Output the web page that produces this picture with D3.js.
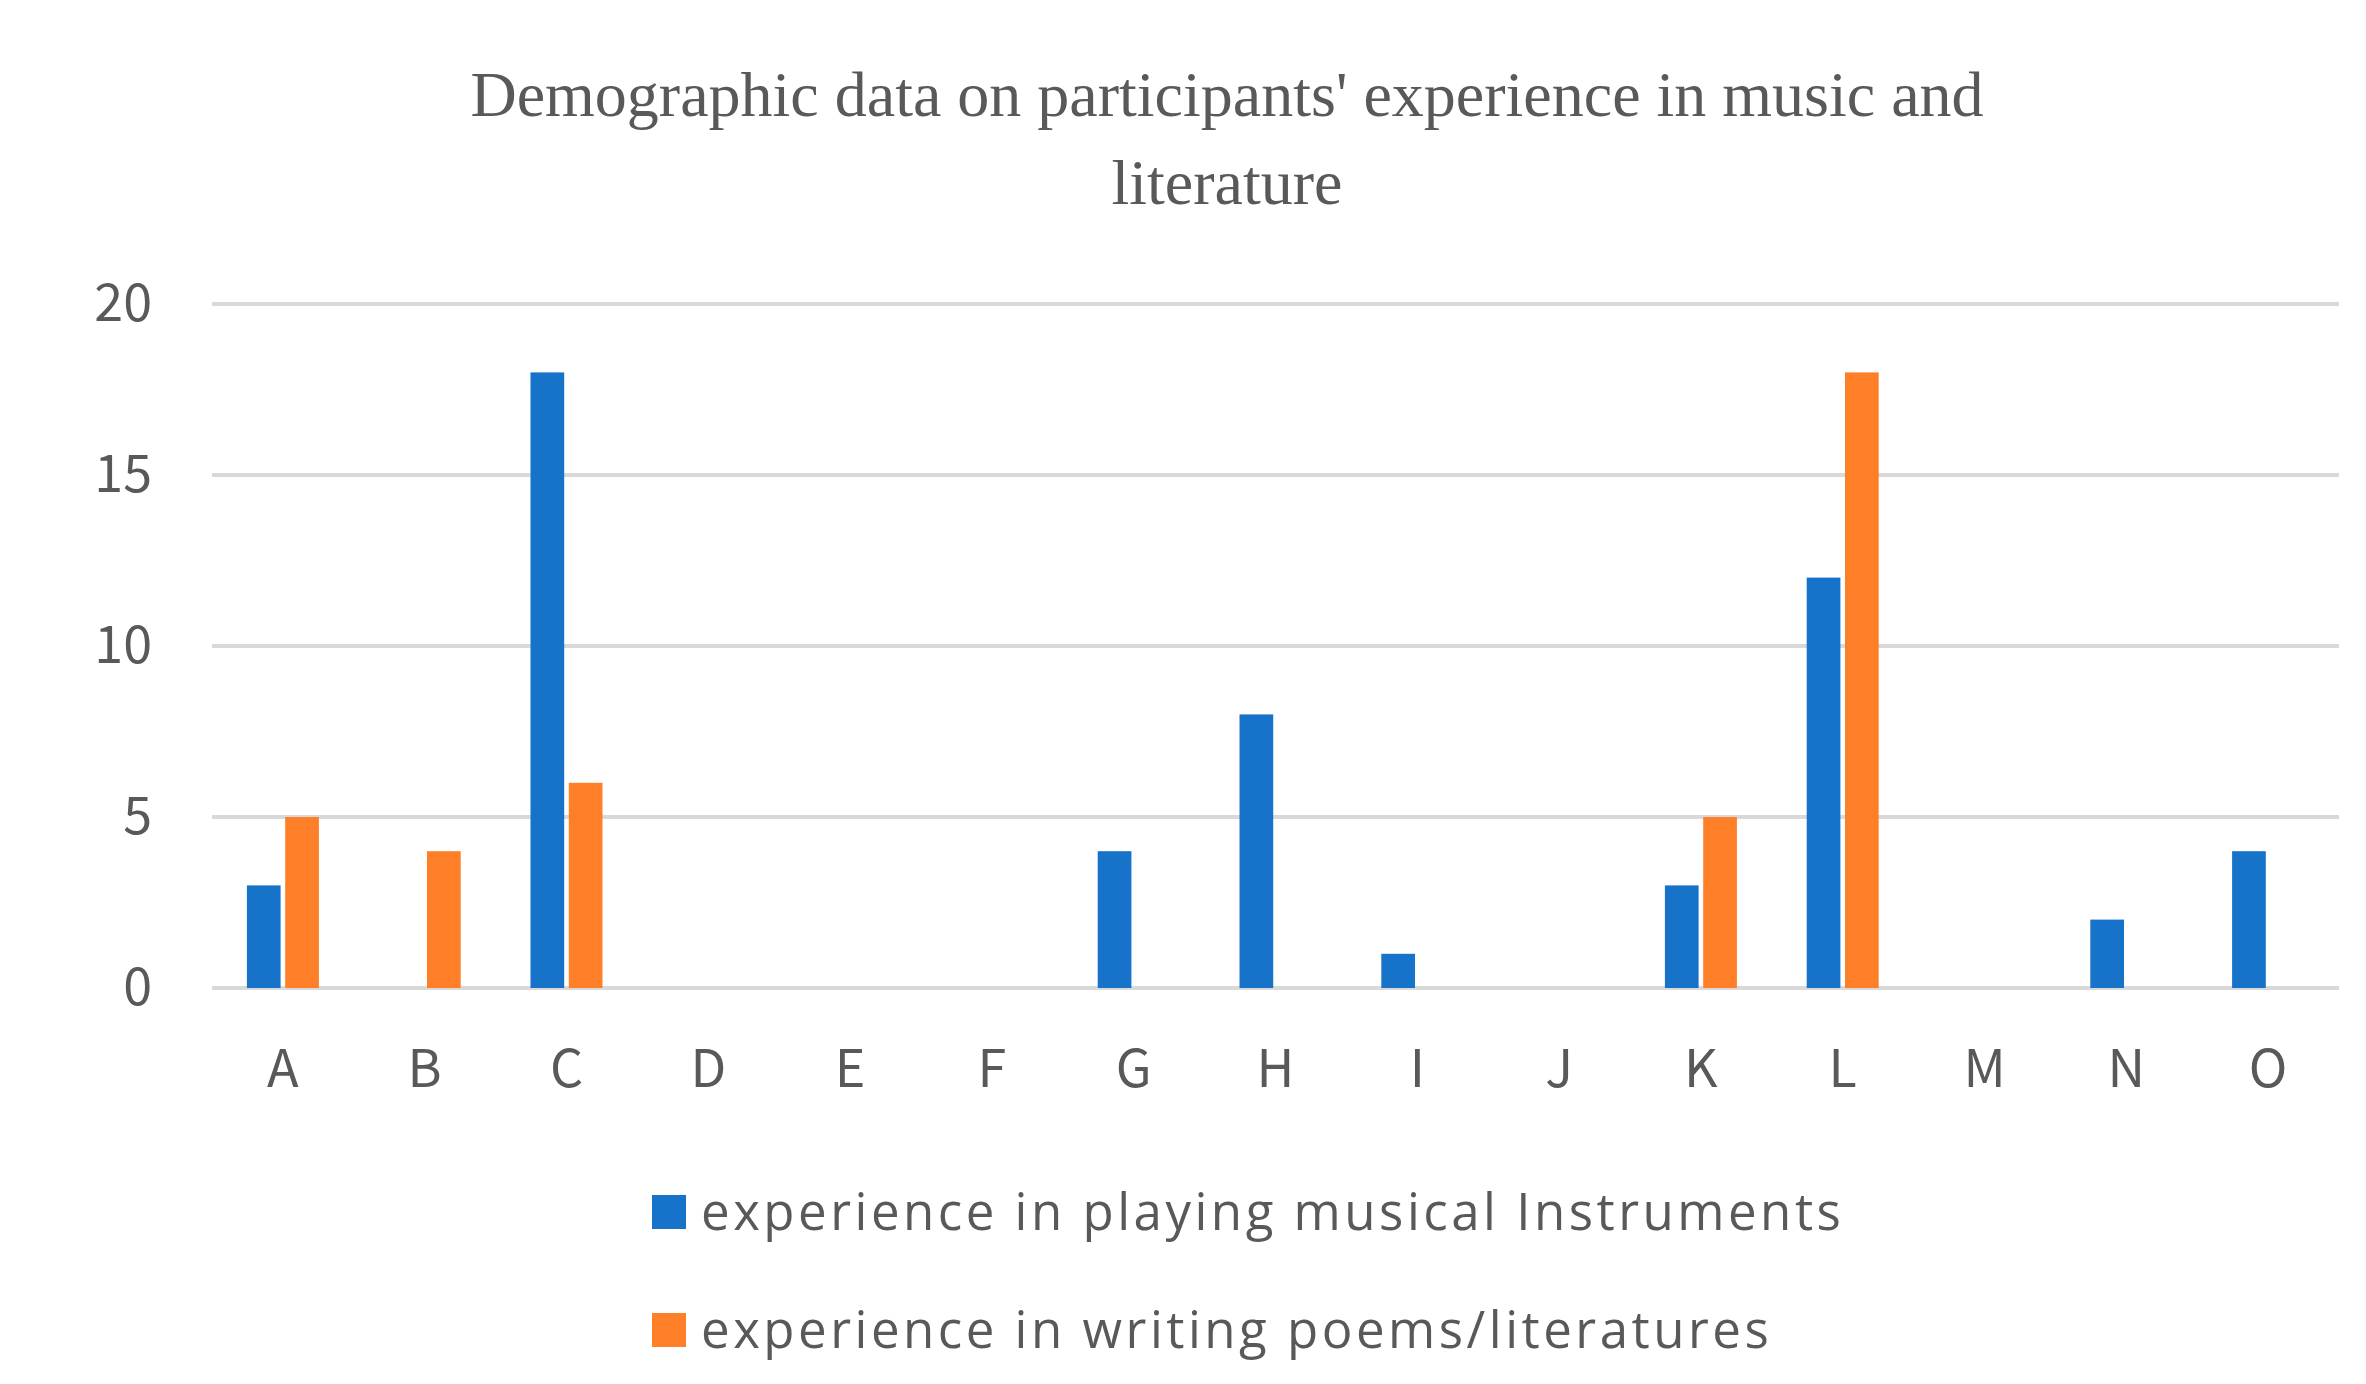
<!DOCTYPE html>
<html>
<head>
<meta charset="utf-8">
<script src="https://cdn.jsdelivr.net/npm/d3@7"></script>
<style>
  body { margin: 0; background: #fff; }
</style>
</head>
<body>
<div id="chart"></div>
<script>
// Chart data
const categories = ["A","B","C","D","E","F","G","H","I","J","K","L","M","N","O"];
const seriesNames = ["experience in playing musical Instruments", "experience in writing poems/literatures"];
const music = [3,0,18,0,0,0,4,8,1,0,3,12,0,2,4];
const writing = [5,4,6,0,0,0,0,0,0,0,5,18,0,0,0];
const yTicks = [0,5,10,15,20];
const colors = ["#1772c9", "#fe7f27"];

const W = 2366, H = 1384;
const margin = { top: 304, right: 27, bottom: 396, left: 212 },
    width = W - margin.left - margin.right,
    height = H - margin.top - margin.bottom;

const svg = d3.select("#chart").append("svg")
    .attr("width", W).attr("height", H);

// Title
const title = svg.append("text")
    .attr("text-anchor", "middle")
    .attr("fill", "#595959")
    .style("font-family", "'Liberation Serif', 'DejaVu Serif', serif")
    .style("font-size", "64px");
title.append("tspan").attr("x", 1227).attr("y", 116).text("Demographic data on participants' experience in music and");
title.append("tspan").attr("x", 1227).attr("y", 204).text("literature");

const g = svg.append("g").attr("transform", `translate(${margin.left},${margin.top})`);

const x = d3.scaleBand().domain(categories).range([0, width]);
const y = d3.scaleLinear().domain([0, 20]).range([height, 0]);
const xs = d3.scaleBand().domain([0, 1]).range([-36, 36]).paddingInner(0.12);

// Gridlines
g.selectAll(".grid").data(yTicks).enter().append("line")
    .attr("x1", 0).attr("x2", width)
    .attr("y1", d => y(d)).attr("y2", d => y(d))
    .attr("stroke", "#d9d9d9").attr("stroke-width", 4);

const axisFont = "'Noto Sans CJK KR', 'Open Sans', sans-serif";

// Y axis
const yAxis = g.append("g").call(d3.axisLeft(y).tickValues(yTicks).tickSize(0).tickPadding(60));
yAxis.select(".domain").remove();
yAxis.selectAll("text").attr("fill", "#595959")
    .style("font-family", axisFont).style("font-size", "52px");

// X axis
const xAxis = g.append("g").attr("transform", `translate(0,${height})`)
    .call(d3.axisBottom(x).tickSize(0).tickPadding(62));
xAxis.select(".domain").remove();
xAxis.selectAll("text").attr("fill", "#595959")
    .style("font-family", axisFont).style("font-size", "52px");

// Bars
[music, writing].forEach((vals, si) => {
    g.append("g").selectAll("rect").data(vals).enter().append("rect")
        .attr("x", (d, i) => x(categories[i]) + x.bandwidth() / 2 + xs(si))
        .attr("y", d => y(d))
        .attr("width", xs.bandwidth())
        .attr("height", d => height - y(d))
        .attr("fill", colors[si]);
});

// Legend
const legend = svg.append("g");
seriesNames.forEach((name, i) => {
    const ly = 1212 + i * 118;
    legend.append("rect").attr("x", 652).attr("y", ly - 17).attr("width", 34).attr("height", 34).attr("fill", colors[i]);
    legend.append("text").attr("x", 701).attr("y", ly + 18)
        .attr("fill", "#595959")
        .style("font-family", "'Open Sans', 'Noto Sans', sans-serif").style("font-size", "51px")
        .style("letter-spacing", "3.5px")
        .text(name);
});
</script>
</body>
</html>
